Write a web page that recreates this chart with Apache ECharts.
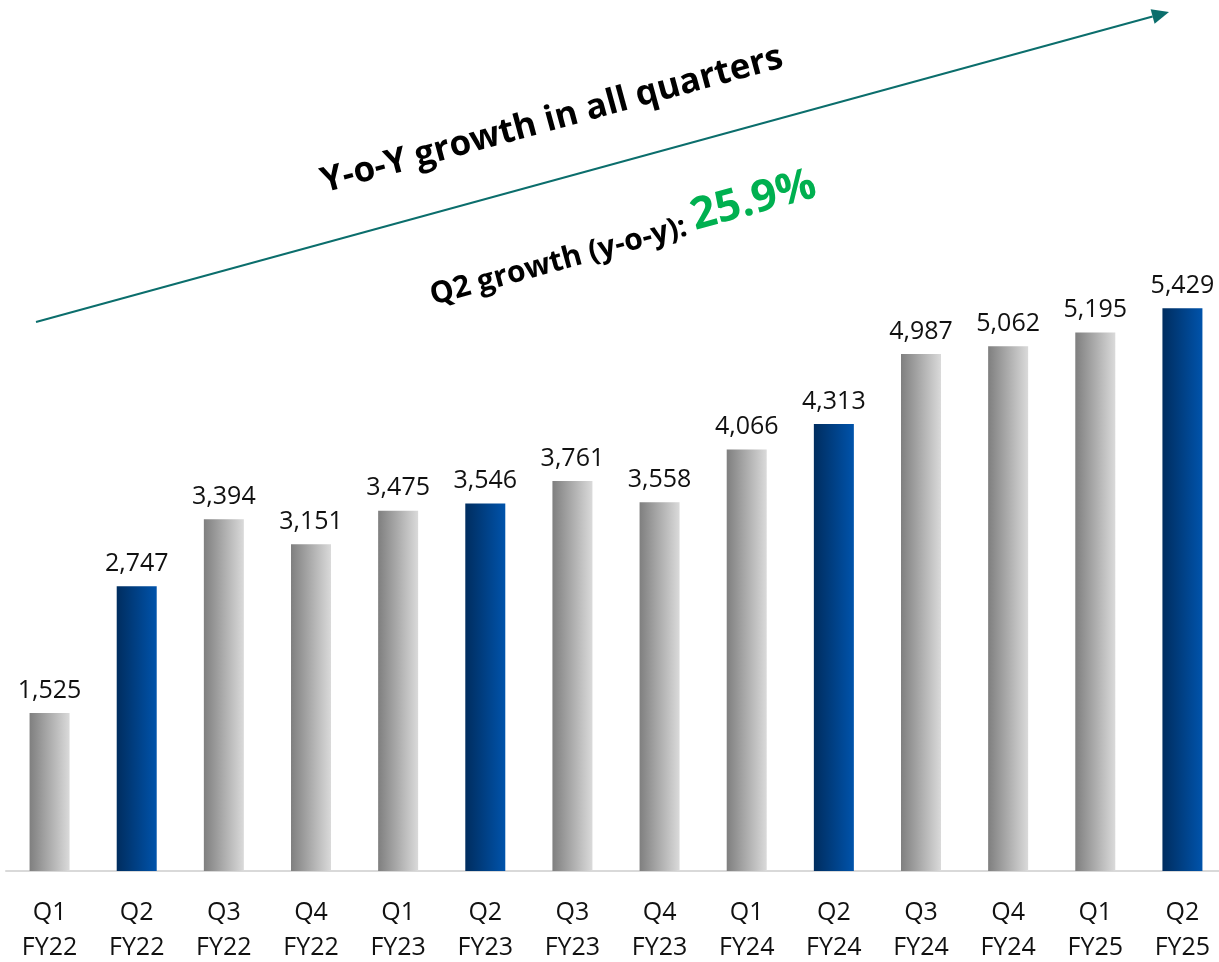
<!DOCTYPE html>
<html>
<head>
<meta charset="utf-8">
<script src="https://cdn.jsdelivr.net/npm/echarts@6/dist/echarts.min.js"></script>
<style>
html,body{margin:0;padding:0;background:#fff;}
#chart{width:1219px;height:962px;}
</style>
</head>
<body>
<div id="chart"></div>
<script>
const quarters = ['Q1','Q2','Q3','Q4','Q1','Q2','Q3','Q4','Q1','Q2','Q3','Q4','Q1','Q2'];
const fiscalYears = ['FY22','FY22','FY22','FY22','FY23','FY23','FY23','FY23','FY24','FY24','FY24','FY24','FY25','FY25'];
const values = [1525, 2747, 3394, 3151, 3475, 3546, 3761, 3558, 4066, 4313, 4987, 5062, 5195, 5429];
const highlightQuarter = 'Q2';
const headline = 'Y-o-Y growth in all quarters';
const growthLabel = 'Q2 growth (y-o-y): ';
const growthValue = '25.9%';

const FONT = '"Open Sans", sans-serif';
const categories = quarters.map((q, i) => q + '\n' + fiscalYears[i]);

function grad(a, b) {
  return new echarts.graphic.LinearGradient(0, 0, 1, 0, [
    { offset: 0, color: a }, { offset: 1, color: b }
  ]);
}

const seriesData = values.map((v, i) => ({
  value: v,
  itemStyle: {
    color: quarters[i] === highlightQuarter ? grad('#002d5f', '#0053ab') : grad('#7f7f7f', '#dadada')
  }
}));

// arrow geometry (decoration)
const ax1 = 36, ay1 = 322, ax2 = 1169, ay2 = 12;
const ang = Math.atan2(ay2 - ay1, ax2 - ax1);
const headLen = 17, headHalf = 7.5;
const bx = ax2 - headLen * Math.cos(ang), by = ay2 - headLen * Math.sin(ang);
const px = -Math.sin(ang), py = Math.cos(ang);
const rot = -ang; // echarts rotation (counterclockwise positive)

const chart = echarts.init(document.getElementById('chart'));
chart.setOption({
  animation: false,
  backgroundColor: '#ffffff',
  grid: { left: 6, width: 1220, top: 249, height: 622, containLabel: false, outerBoundsMode: 'none' },
  xAxis: {
    type: 'category',
    data: categories,
    axisLine: { show: true, lineStyle: { color: '#d9d9d9', width: 2 } },
    axisTick: { show: false },
    axisLabel: { margin: 24, fontFamily: FONT, fontSize: 25, color: '#111', lineHeight: 35, interval: 0 }
  },
  yAxis: {
    type: 'value', min: 0, max: 6000, show: false,
    splitLine: { show: false }
  },
  series: [{
    type: 'bar',
    data: seriesData,
    barWidth: 40,
    label: {
      show: true, position: 'top', distance: 10,
      fontFamily: FONT, fontSize: 25, color: '#111',
      formatter: p => p.value.toLocaleString('en-US')
    }
  }],
  graphic: [
    {
      type: 'line',
      shape: { x1: ax1, y1: ay1, x2: bx, y2: by },
      style: { stroke: '#0b6e6c', lineWidth: 2 }
    },
    {
      type: 'polygon',
      shape: { points: [[ax2, ay2], [bx + px * headHalf, by + py * headHalf], [bx - px * headHalf, by - py * headHalf]] },
      style: { fill: '#0b6e6c' }
    },
    {
      type: 'text',
      x: 552, y: 120, rotation: rot,
      style: {
        text: headline, align: 'center', verticalAlign: 'middle',
        font: 'bold 35px ' + FONT, fill: '#000'
      }
    },
    {
      type: 'text',
      x: 622, y: 237, rotation: rot,
      style: {
        text: '{a|' + growthLabel + '}{b|' + growthValue + '}',
        align: 'center', verticalAlign: 'middle',
        rich: {
          a: { fontFamily: FONT, fontWeight: 'bold', fontSize: 30, fill: '#000', color: '#000', verticalAlign: 'bottom' },
          b: { fontFamily: FONT, fontWeight: 'bold', fontSize: 44, fill: '#00b050', color: '#00b050', verticalAlign: 'bottom' }
        }
      }
    }
  ]
});
</script>
</body>
</html>
